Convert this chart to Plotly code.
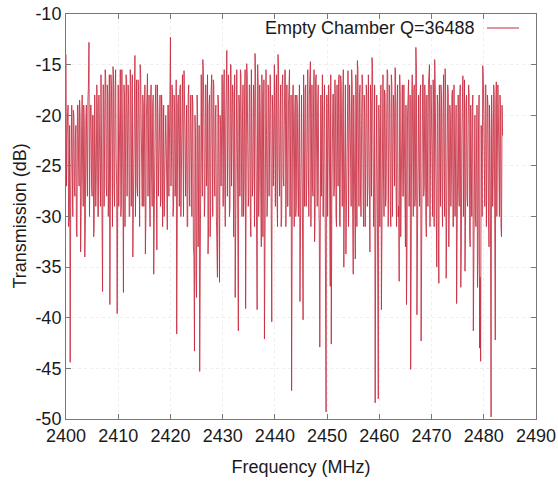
import plotly.graph_objects as go

# Sweep grid: readings every 0.1 MHz. For each 10 MHz segment, list "a" holds the
# readings at start + 0.2*j and list "b" the readings at start + 0.1 + 0.2*j.
STEP_MHZ = 0.2
OFFSET_B = 0.1
segment_starts = [2400, 2410, 2420, 2430, 2440, 2450, 2460, 2470, 2480]

seg_2400a = [-14.0, -22, -19, -30, -44.4, -20, -25, -19.5, -27, -22,
             -31.5, -19, -24, -18.5, -33.5, -21, -26, -19, -34, -20.5,
             -25, -18.5, -12.8, -23, -19, -28, -20, -31, -21.5, -26,
             -19.5, -30, -24, -29, -22, -37.4, -17, -25, -16.3, -28,
             -18, -26, -38.7, -16, -23, -15.2, -27, -17.5, -24, -39.6]
seg_2400b = [-27, -20, -31, -21, -29, -19, -30, -20, -28, -21,
             -32, -19, -27, -20, -30, -18, -29, -21, -31, -19,
             -28, -17, -30, -19, -27, -20, -32, -18, -29, -17,
             -30, -18, -28, -16, -31, -17, -29, -15.5, -27, -17,
             -30, -16, -28, -17, -31, -16, -29, -15.5, -27, -17]
seg_2410a = [-17, -24, -15.5, -29, -20, -37.5, -18, -26, -16.5, -23,
             -19, -30, -17, -25, -34, -18, -14.1, -22, -27, -16.5,
             -24, -15, -21, -29, -19, -25, -33.7, -20, -15.9, -23,
             -28, -18.5, -26, -19, -35.7, -21, -17, -33.3, -20, -24,
             -18, -28, -19.5, -25, -30, -20, -23, -31.3, -19, -25]
seg_2410b = [-29, -16, -30, -15.5, -27, -17, -31, -16, -28, -17,
             -30, -15.5, -29, -16, -27, -15, -30, -16.5, -28, -17,
             -31, -16, -27, -18, -29, -17, -30, -16, -28, -18,
             -31, -17, -29, -18, -27, -19, -30, -17, -28, -19,
             -29, -18, -31, -19, -27, -20, -30, -19, -28, -18]
seg_2420a = [-12.3, -24, -18, -29, -20, -26, -41.6, -19, -23, -17.5,
             -30, -21, -26, -15.6, -22, -19, -31, -18, -27, -20.5,
             -24, -18, -33, -43.3, -22, -38, -20, -27, -45.3, -19,
             -24, -14.5, -21, -28, -17, -25, -33.7, -19, -32, -17.6,
             -23, -16.5, -26, -20, -30, -36, -19, -36.5, -21, -18.5]
seg_2420b = [-27, -17, -30, -18, -28, -16.5, -31, -18, -29, -17,
             -27, -16, -30, -18, -28, -19, -31, -17, -29, -18,
             -30, -19, -34, -20, -36, -18, -33, -21, -35, -16,
             -28, -15.5, -30, -17, -27, -16, -31, -18, -29, -16,
             -30, -17, -28, -19, -32, -18, -29, -20, -27, -16]
seg_2430a = [-22, -17, -27, -20, -13.6, -24, -19, -29, -15, -23,
             -18, -26, -38, -16, -21, -41.3, -19, -15.5, -25, -20,
             -30, -18, -39.1, -14.9, -23, -28, -17, -32, -21, -26,
             -19, -13.9, -24, -39.2, -17, -27, -20, -33, -18, -25,
             -42.1, -15.6, -22, -28, -17.5, -24, -19, -40.4, -20, -16.5]
seg_2430b = [-29, -15.5, -31, -17, -28, -16, -30, -15, -27, -17,
             -32, -16, -29, -15.5, -31, -18, -28, -16, -30, -17,
             -27, -15.5, -31, -16, -29, -17, -30, -15.5, -28, -17,
             -31, -16, -29, -15, -30, -17, -28, -16, -32, -16.5,
             -29, -15.5, -30, -17, -28, -16, -31, -18, -27, -15]
seg_2440a = [-23, -18, -28, -14, -25, -20, -31, -17, -26, -21,
             -15.6, -24, -29, -19, -15.5, -23, -47.2, -18.5, -26, -20,
             -30, -18, -27, -21, -38.4, -19, -24, -40.2, -20, -17.5,
             -29, -21, -25, -18, -14.7, -22, -27, -19, -32.5, -16.5,
             -24, -19, -28, -42.9, -18, -23, -30, -20, -26, -49.3]
seg_2440b = [-29, -16, -31, -15.5, -28, -17, -30, -16, -27, -15.5,
             -31, -17, -29, -16, -30, -18, -28, -17, -31, -18,
             -29, -19, -30, -17, -28, -18, -32, -16, -29, -17,
             -27, -15.5, -30, -16, -31, -17, -28, -15.5, -30, -16,
             -29, -17, -31, -18, -28, -16, -30, -17, -33, -18]
seg_2450a = [-18, -26, -20, -36.9, -42.6, -21, -17.9, -27, -19, -31,
             -22, -16.5, -30.9, -16.1, -24, -19, -35, -18, -33.7, -21,
             -15.6, -26, -20, -29, -17, -35.7, -22, -34.2, -19, -14.6,
             -24, -18, -28, -21, -17, -31, -20, -25, -18, -27,
             -21, -33.5, -19, -14.3, -23, -28, -48.4, -20, -26, -48]
seg_2450b = [-30, -17, -31, -16, -29, -18, -28, -16.5, -30, -17,
             -27, -16, -31, -17, -29, -15.5, -30, -17, -28, -16,
             -31, -17, -29, -15.5, -30, -18, -28, -16, -31, -15.5,
             -29, -17, -30, -16, -28, -18, -31, -17, -29, -16,
             -30, -17, -28, -15.5, -31, -17, -33, -18, -35, -19]
seg_2460a = [-22, -18, -39.2, -20, -26, -17.5, -29, -21, -15.9, -24,
             -19, -31, -17, -25, -20, -15.3, -27, -19, -30, -36.4,
             -18, -24, -17, -28, -21, -33, -38.7, -20, -16.5, -26,
             -45.1, -19, -23, -17.5, -29, -13.3, -39.7, -20, -25, -18,
             -42.3, -21, -16, -27, -19, -32, -22, -17, -15, -26]
seg_2460b = [-31, -17, -29, -16, -30, -18, -28, -15.5, -31, -17,
             -29, -16, -30, -18, -27, -15.5, -31, -17, -29, -16,
             -32, -18, -28, -17, -30, -19, -33, -17, -29, -18,
             -34, -16, -30, -17, -28, -15.5, -31, -18, -29, -17,
             -32, -16, -28, -17, -30, -18, -29, -16, -31, -17]
seg_2470a = [-20, -30, -18, -14.5, -24, -35, -19, -36.6, -21, -17,
             -27, -20, -25, -15.4, -36.1, -22, -18, -29, -20, -26,
             -17.5, -31, -21, -24, -38.6, -19, -27, -18, -37, -22,
             -16.1, -25, -35.4, -19, -28, -21, -18, -33, -23, -19.5,
             -41.3, -20, -30, -24, -37, -21, -43, -44.3, -26, -15.1]
seg_2470b = [-29, -16.5, -31, -17, -30, -18, -32, -17, -29, -18,
             -31, -16, -30, -18, -28, -17, -33, -19, -29, -18,
             -31, -17, -30, -19, -32, -18, -29, -17, -33, -19,
             -30, -16.5, -31, -18, -29, -17, -32, -19, -30, -18,
             -33, -20, -31, -19, -34, -18, -36, -21, -30, -16]
seg_2480a = [-20, -29, -17, -24, -19, -33, -22, -49.8, -21, -26,
             -18, -42.2, -16.7, -23, -20, -30, -19.5, -32, -22]
seg_2480b = [-29, -17, -31, -18, -30, -19, -33, -18, -29, -17,
             -31, -19, -30, -17, -28, -18, -31, -19]

segments_a = [seg_2400a, seg_2410a, seg_2420a, seg_2430a, seg_2440a,
              seg_2450a, seg_2460a, seg_2470a, seg_2480a]
segments_b = [seg_2400b, seg_2410b, seg_2420b, seg_2430b, seg_2440b,
              seg_2450b, seg_2460b, seg_2470b, seg_2480b]

readings = []
for start, sa, sb in zip(segment_starts, segments_a, segments_b):
    for j, v in enumerate(sa):
        readings.append((round(start + STEP_MHZ * j, 3), v))
    for j, v in enumerate(sb):
        readings.append((round(start + OFFSET_B + STEP_MHZ * j, 3), v))
readings.sort()
freq_mhz = [f for f, _ in readings]
transmission_db = [v for _, v in readings]

series_name = "Empty Chamber Q=36488"
x_ticks = [2400, 2410, 2420, 2430, 2440, 2450, 2460, 2470, 2480, 2490]
y_ticks = [-10, -15, -20, -25, -30, -35, -40, -45, -50]
y_tick_text = ["-10", "-15", "-20", "-25", "-30", "-35", "-40", "-45", "-50"]

LINE_COLOR = "#c62a3e"
FONT = "Liberation Sans, Arial, sans-serif"
TXT = "#1a1a1a"

fig = go.Figure()
fig.add_trace(go.Scatter(
    x=freq_mhz, y=transmission_db, mode="lines", name=series_name,
    line=dict(color=LINE_COLOR, width=0.85), showlegend=False,
))

axis_common = dict(
    showline=True, linecolor="#777777", linewidth=1, mirror="ticks",
    ticks="inside", ticklen=5, tickcolor="#777777",
    showgrid=True, gridcolor="#eeeeee", griddash="dot", gridwidth=1,
    zeroline=False, automargin=False,
    tickfont=dict(family=FONT, size=18, color=TXT),
)

fig.update_xaxes(range=[2400, 2490], tickvals=x_ticks,
                 title=dict(text="Frequency (MHz)", font=dict(family=FONT, size=18, color=TXT)),
                 **axis_common)
fig.update_yaxes(range=[-50, -10], tickvals=y_ticks, ticktext=y_tick_text, **axis_common)

# y-axis title placed as rotated text to sit where the reference has it
fig.add_annotation(x=-0.1, y=0.5, xref="paper", yref="paper", text="Transmission (dB)",
                   textangle=-90, showarrow=False, xanchor="center", yanchor="middle",
                   font=dict(family=FONT, size=18, color=TXT))

# gnuplot-style key: text followed by the line sample
fig.add_annotation(x=0.8745, y=0.9654, xref="paper", yref="paper",
                   text=series_name, showarrow=False, xanchor="right", yanchor="middle",
                   font=dict(family=FONT, size=18, color=TXT))
fig.add_shape(type="line", xref="paper", yref="paper", x0=0.8957, x1=0.9638, y0=0.9654, y1=0.9654,
              line=dict(color=LINE_COLOR, width=1))

fig.update_layout(
    width=558, height=482,
    margin=dict(l=66, r=22, t=14, b=63),
    plot_bgcolor="white", paper_bgcolor="white",
    font=dict(family=FONT),
)

fig.write_html("out.html", config={"displayModeBar": False},
               post_script="document.body.style.margin='0';")
